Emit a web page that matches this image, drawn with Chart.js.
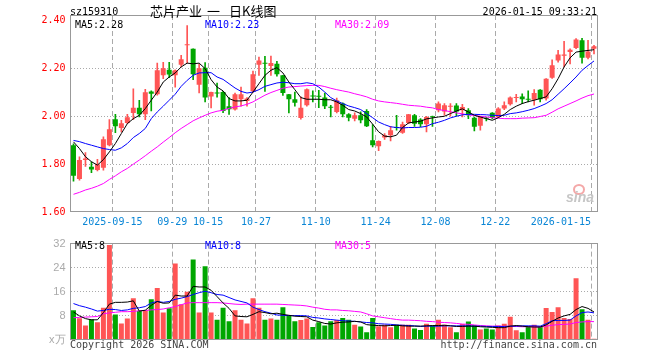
<!DOCTYPE html>
<html>
<head>
<meta charset="utf-8">
<script src="https://cdn.jsdelivr.net/npm/chart.js@4/dist/chart.umd.min.js"></script>
<style>
  body { margin: 0; width: 660px; height: 360px; position: relative; overflow: hidden; background: #fff; }
  canvas { position: absolute; left: 0; }
  .t { position: absolute; font: 10px "DejaVu Sans Mono", monospace; line-height: 12px; white-space: pre; }
  .cn { position: absolute; font: 13px "Noto Sans CJK SC"; line-height: 14px; white-space: pre; color: #000; }
</style>
</head>
<body>
<canvas id="k" width="660" height="232" style="top:0"></canvas>
<canvas id="v" width="660" height="128" style="top:232px"></canvas>

<div class="t" style="left:70px;top:6px">sz159310</div>
<div class="cn" style="left:150px;top:4px">芯片产业</div>
<div class="cn" style="left:207px;top:4px">一</div>
<div class="cn" style="left:229px;top:4px">日K线图</div>
<div class="t" style="right:63px;top:6px">2026-01-15 09:33:21</div>

<div class="t" style="left:75px;top:19px;color:#000">MA5:2.28</div>
<div class="t" style="left:205px;top:19px;color:#0000ff">MA10:2.23</div>
<div class="t" style="left:335px;top:19px;color:#ff00ff">MA30:2.09</div>

<div style="position:absolute;left:573px;top:184px;width:8px;height:7px;border-radius:50%;border:2px solid #f4a8a8"></div>
<div style="position:absolute;left:566px;top:189px;font:italic bold 14px 'Liberation Sans';color:#c6c6c6">sina</div>

<div class="t" style="left:75px;top:240px;color:#000">MA5:8</div>
<div class="t" style="left:205px;top:240px;color:#0000ff">MA10:8</div>
<div class="t" style="left:335px;top:240px;color:#ff00ff">MA30:5</div>

<div class="t" style="left:70px;top:339px;color:#444">Copyright 2026 SINA.COM</div>
<div class="t" style="right:63px;top:339px;color:#444">http://finance.sina.com.cn</div>

<script>
// trading days shown on the chart
const dates = [
  '2025-09-04','2025-09-05','2025-09-08','2025-09-09','2025-09-10','2025-09-11','2025-09-12',
  '2025-09-15','2025-09-16','2025-09-17','2025-09-18','2025-09-19','2025-09-22','2025-09-23',
  '2025-09-24','2025-09-25','2025-09-26','2025-09-29','2025-09-30','2025-10-09','2025-10-10',
  '2025-10-13','2025-10-14','2025-10-15','2025-10-16','2025-10-17','2025-10-20','2025-10-21',
  '2025-10-22','2025-10-23','2025-10-24','2025-10-27','2025-10-28','2025-10-29','2025-10-30',
  '2025-10-31','2025-11-03','2025-11-04','2025-11-05','2025-11-06','2025-11-07','2025-11-10',
  '2025-11-11','2025-11-12','2025-11-13','2025-11-14','2025-11-17','2025-11-18','2025-11-19',
  '2025-11-20','2025-11-21','2025-11-24','2025-11-25','2025-11-26','2025-11-27','2025-11-28',
  '2025-12-01','2025-12-02','2025-12-03','2025-12-04','2025-12-05','2025-12-08','2025-12-09',
  '2025-12-10','2025-12-11','2025-12-12','2025-12-15','2025-12-16','2025-12-17','2025-12-18',
  '2025-12-19','2025-12-22','2025-12-23','2025-12-24','2025-12-25','2025-12-26','2025-12-29',
  '2025-12-30','2025-12-31','2026-01-05','2026-01-06','2026-01-07','2026-01-08','2026-01-09',
  '2026-01-12','2026-01-13','2026-01-14','2026-01-15'
];

const open = [
  1.879,1.738,1.817,1.789,1.775,1.785,1.879,1.988,1.951,1.972,2.014,2.036,2.008,2.103,2.092,2.171,
  2.194,2.171,2.215,2.297,2.282,2.132,2.203,2.083,2.098,2.101,2.042,2.028,2.071,2.064,2.104,2.215,
  2.221,2.210,2.219,2.171,2.092,2.071,1.993,2.046,2.085,2.083,2.078,2.038,2.018,2.053,2.008,1.990,
  2.004,2.022,1.900,1.875,1.911,1.921,1.953,1.931,1.972,2.004,1.986,1.967,1.998,2.025,2.020,2.040,
  2.045,2.025,2.025,1.994,1.960,1.992,2.015,1.997,2.032,2.050,2.076,2.083,2.070,2.069,2.111,2.074,
  2.161,2.233,2.253,2.268,2.285,2.317,2.244,2.282
];
const high = [
  1.885,1.831,1.848,1.810,1.820,1.914,1.986,2.008,1.983,2.008,2.115,2.067,2.112,2.106,2.222,2.225,
  2.225,2.194,2.254,2.379,2.282,2.218,2.224,2.101,2.139,2.104,2.078,2.097,2.122,2.078,2.189,2.247,
  2.250,2.251,2.229,2.171,2.092,2.101,2.081,2.115,2.106,2.108,2.097,2.046,2.076,2.056,2.011,2.014,
  2.018,2.028,1.965,1.897,1.928,1.958,2.004,1.976,2.008,2.008,1.990,2.000,2.001,2.060,2.053,2.053,
  2.053,2.050,2.032,1.997,2.000,1.997,2.015,2.036,2.060,2.081,2.092,2.094,2.106,2.111,2.111,2.157,
  2.236,2.275,2.313,2.282,2.324,2.326,2.317,2.296
];
const low = [
  1.729,1.733,1.790,1.764,1.772,1.775,1.876,1.931,1.935,1.969,1.986,1.997,1.986,2.022,2.088,2.157,
  2.161,2.122,2.206,2.222,2.153,2.097,2.060,2.035,2.080,2.015,2.008,2.025,2.042,2.042,2.101,2.171,
  2.104,2.171,2.167,2.087,2.014,2.042,1.988,2.042,2.060,2.036,2.032,1.997,2.014,1.997,1.981,1.981,
  1.972,1.956,1.872,1.856,1.903,1.897,1.942,1.928,1.969,1.958,1.956,1.935,1.958,2.018,2.005,2.000,
  2.000,1.997,1.990,1.939,1.942,1.981,1.989,1.994,2.028,2.046,2.060,2.053,2.060,2.046,2.060,2.067,
  2.158,2.226,2.206,2.219,2.282,2.222,2.240,2.260
];
const close = [
  1.751,1.817,1.823,1.778,1.799,1.904,1.946,1.958,1.971,1.996,2.036,2.008,2.100,2.094,2.192,2.201,
  2.174,2.192,2.238,2.300,2.175,2.201,2.078,2.101,2.095,2.022,2.029,2.092,2.092,2.074,2.175,2.233,
  2.219,2.222,2.175,2.097,2.071,2.056,2.035,2.113,2.083,2.081,2.042,2.036,2.067,2.008,1.994,2.004,
  1.983,1.958,1.879,1.897,1.921,1.942,1.951,1.967,2.008,1.969,1.967,1.997,1.996,2.053,2.046,2.043,
  2.020,2.039,2.004,1.956,1.997,1.990,1.993,2.032,2.046,2.078,2.078,2.071,2.069,2.097,2.071,2.157,
  2.213,2.258,2.258,2.278,2.321,2.244,2.271,2.292
];

// moving averages
const ma5 = [
  1.893,1.865,1.831,1.810,1.796,1.819,1.851,1.886,1.928,1.969,1.990,2.004,2.032,2.067,2.101,2.143,
  2.164,2.181,2.206,2.222,2.219,2.222,2.199,2.153,2.122,2.106,2.074,2.064,2.064,2.067,2.101,2.136,
  2.171,2.192,2.203,2.181,2.143,2.111,2.078,2.071,2.071,2.071,2.069,2.069,2.060,2.046,2.028,2.022,
  2.011,1.997,1.967,1.935,1.917,1.914,1.921,1.953,1.972,1.976,1.979,1.989,1.993,1.997,2.000,2.011,
  2.022,2.031,2.018,2.004,1.997,1.990,1.983,1.994,2.008,2.028,2.042,2.053,2.061,2.067,2.074,2.081,
  2.115,2.157,2.206,2.244,2.268,2.272,2.275,2.278
];
const ma10 = [
  1.899,1.894,1.886,1.879,1.872,1.865,1.861,1.858,1.868,1.886,1.911,1.928,1.949,1.990,2.018,2.042,
  2.067,2.092,2.125,2.150,2.171,2.181,2.182,2.182,2.164,2.154,2.136,2.118,2.104,2.097,2.101,2.111,
  2.125,2.132,2.139,2.142,2.140,2.136,2.136,2.140,2.136,2.122,2.101,2.078,2.064,2.053,2.043,2.036,
  2.028,2.011,1.994,1.976,1.965,1.956,1.953,1.951,1.953,1.953,1.954,1.958,1.969,1.975,1.983,1.993,
  2.000,2.006,2.008,2.008,2.007,2.006,2.004,2.003,2.004,2.011,2.014,2.019,2.025,2.032,2.042,2.053,
  2.069,2.092,2.115,2.139,2.164,2.192,2.212,2.231
];
const ma30 = [
  1.674,1.682,1.692,1.699,1.708,1.719,1.736,1.751,1.768,1.782,1.800,1.817,1.835,1.854,1.872,1.892,
  1.911,1.931,1.949,1.965,1.981,1.993,2.004,2.014,2.021,2.025,2.033,2.039,2.043,2.050,2.060,2.074,
  2.088,2.099,2.108,2.117,2.122,2.124,2.126,2.128,2.129,2.129,2.124,2.117,2.111,2.106,2.101,2.094,
  2.088,2.081,2.071,2.064,2.060,2.057,2.054,2.050,2.046,2.044,2.042,2.038,2.035,2.028,2.024,2.019,
  2.014,2.010,2.006,2.003,2.000,1.997,1.994,1.992,1.990,1.990,1.990,1.992,1.993,1.994,1.999,2.004,
  2.017,2.031,2.042,2.053,2.064,2.076,2.086,2.093
];

// volume in units of 10k (万)
const volume = [
  9.9,7.25,4.8,6.9,5.9,10.7,31.5,8.5,5.5,7.1,13.9,9.6,9.9,13.5,17.3,9.1,10.5,25.4,11.9,16,
  26.7,9.1,24.5,9.1,6.7,10.7,6.2,9.9,6.7,5.5,13.9,10.7,6.7,7.1,6.7,10.9,8,6.2,6.6,7.1,
  4.3,5.9,4.8,6.2,6.6,7.3,6.7,5.1,4.5,2.6,7.3,4.6,5.1,4.2,5.1,5.1,5.1,3.8,3.3,5.4,
  4.8,6.7,5.1,4.2,2.6,5.3,6.1,4.8,3.5,3.8,3.5,4.8,5.4,7.7,3.2,2.6,4.5,5.1,4.5,10.6,
  9.3,10.9,7.3,7.0,20.5,10.2,6.7,0.4
];
const volMa5 = [
  9.3,8.0,7.1,6.7,6.7,9.1,11.9,12.5,12.5,12.6,13.0,9.6,9.9,11.5,12.8,12.2,12.3,14.9,14.6,14.6,
  17.8,17.6,17.6,16.5,14.4,12.3,10.5,8.0,7.8,7.7,8.5,9.4,9.1,8.7,8.9,8.5,8.2,7.9,7.8,7.7,
  6.6,6.1,5.5,5.3,5.7,5.9,6.0,6.2,6.0,5.1,4.9,4.8,4.7,4.8,4.9,4.7,4.6,4.6,4.6,4.7,
  4.8,4.8,4.9,4.7,4.5,4.5,4.6,4.6,4.4,4.3,4.2,4.1,4.1,4.6,4.8,4.6,4.4,4.3,4.3,5.0,
  6.2,7.3,8.0,8.5,10.1,11.1,10.5,9.3
];
const volMa10 = [
  12.1,11.4,10.9,10.3,9.6,9.8,10.2,10.1,9.8,10.0,10.5,10.7,11.1,12.3,12.8,12.5,12.8,13.5,13.9,14.4,
  15.1,15.7,16.2,15.7,15.1,14.9,14.1,13.3,12.8,12.3,10.9,10.1,9.4,8.9,8.3,8.2,8.1,8.1,8.1,8.0,
  7.5,7.3,7.0,6.8,6.6,6.4,6.3,6.2,6.0,5.8,5.7,5.4,5.3,5.2,5.0,4.9,4.8,4.7,4.5,4.6,
  4.6,4.6,4.7,4.7,4.7,4.7,4.7,4.6,4.6,4.5,4.5,4.5,4.5,4.6,4.6,4.7,4.7,4.7,4.6,5.4,
  6.4,6.5,6.5,6.6,8.0,9.1,9.3,9.0
];
const volMa30 = [
  7.4,7.5,7.6,7.7,7.8,8.7,9.0,9.2,9.4,9.4,9.5,9.7,9.8,10.0,10.1,10.3,10.7,11.1,11.7,12.3,
  12.4,12.4,12.4,12.4,12.4,12.3,12.1,11.9,11.8,11.9,11.9,11.9,11.9,11.9,11.9,11.8,11.7,11.6,11.5,11.3,
  10.9,10.6,10.2,10.0,10.0,9.8,9.7,9.5,9.3,8.7,8.0,7.7,7.4,7.1,6.8,6.6,6.6,6.5,6.4,6.2,
  6.1,5.9,5.8,5.7,5.5,5.3,5.2,5.0,4.8,4.7,4.6,4.6,4.5,4.5,4.5,4.4,4.4,4.4,4.3,4.6,
  4.9,5.1,5.2,5.3,5.8,6.0,6.1,6.1
];

// axis ticks
const tickDates = ['2025-09-15','2025-09-29','2025-10-15','2025-10-27','2025-11-10','2025-11-24','2025-12-08','2025-12-22','2026-01-15'];
const tickLabels = ['2025-09-15','09-29','10-15','10-27','11-10','11-24','12-08','12-22','2026-01-15'];
const priceTicks = [1.6, 1.8, 2.0, 2.2, 2.4];
const volTicks = [0, 8, 16, 24, 32];

const RED = '#ff5555';
const GREEN = '#00a600';
const GRID = '#aaaaaa';
const NONE = 'rgba(0,0,0,0)';
const MONO = { family: 'DejaVu Sans Mono', size: 10 };

const colors = close.map((c, i) => c >= open[i] ? RED : GREEN);

// draw the grey box round the plot area
const frame = {
  id: 'frame',
  afterDraw(chart) {
    const a = chart.chartArea, ctx = chart.ctx;
    const x0 = Math.floor(a.left) + 0.5, x1 = Math.floor(a.right) + 0.5;
    const y0 = Math.floor(a.top) + 0.5, y1 = Math.floor(a.bottom) - 0.5;
    ctx.save();
    ctx.strokeStyle = '#999';
    ctx.lineWidth = 1;
    ctx.strokeRect(x0, y0, x1 - x0, y1 - y0);
    ctx.restore();
  }
};

const xGridColor = (c) => tickDates.includes(dates[c.index]) ? GRID : NONE;

const line = (data, color) => ({
  type: 'line', data, borderColor: color, borderWidth: 1,
  pointRadius: 0, tension: 0, fill: false, order: 0
});

new Chart(document.getElementById('k'), {
  type: 'bar',
  data: {
    labels: dates,
    datasets: [
      line(ma5, '#000000'),
      line(ma10, '#0000ff'),
      line(ma30, '#ff00ff'),
      {
        data: open.map((o, i) => [o, close[i]]),
        backgroundColor: colors,
        barPercentage: 5 / 6, categoryPercentage: 1,
        grouped: false, minBarLength: 1, order: 1
      },
      {
        data: low.map((l, i) => [l, high[i]]),
        backgroundColor: colors,
        barThickness: 1, grouped: false, order: 2
      }
    ]
  },
  options: {
    responsive: false, animation: false, devicePixelRatio: 1,
    layout: { padding: { top: 15, right: 63, left: 0, bottom: 0 } },
    plugins: { legend: { display: false }, tooltip: { enabled: false } },
    scales: {
      x: {
        offset: true,
        grid: { offset: true, color: xGridColor, lineWidth: 1, drawTicks: false },
        border: { display: false, dash: [5, 3] },
        ticks: {
          autoSkip: false, maxRotation: 0, minRotation: 0, padding: 4,
          labelOffset: -3, color: '#0a86d6', font: MONO,
          callback: (v, i) => {
            const k = tickDates.indexOf(dates[i]);
            if (k < 0) return '';
            // last label sits left of its line so it stays inside the box
            return k === tickLabels.length - 1 ? tickLabels[k] + ' '.repeat(10) : tickLabels[k];
          }
        },
        afterFit: (s) => { s.height = 20; }
      },
      y: {
        min: 1.6, max: 2.423,
        afterBuildTicks: (s) => { s.ticks = priceTicks.map(v => ({ value: v })); },
        grid: {
          color: (c) => (c.tick && c.tick.value > 1.7 && c.tick.value < 2.3) ? GRID : NONE,
          drawTicks: false
        },
        border: { display: false, dash: [1, 2] },
        ticks: { color: '#ff0000', padding: 5, font: MONO, callback: (v) => v.toFixed(2) },
        afterFit: (s) => { s.width = 70.5; }
      }
    }
  },
  plugins: [frame]
});

new Chart(document.getElementById('v'), {
  type: 'bar',
  data: {
    labels: dates,
    datasets: [
      line(volMa5, '#000000'),
      line(volMa10, '#0000ff'),
      line(volMa30, '#ff00ff'),
      {
        data: volume,
        backgroundColor: colors,
        barPercentage: 5 / 6, categoryPercentage: 1,
        grouped: false, order: 1
      }
    ]
  },
  options: {
    responsive: false, animation: false, devicePixelRatio: 1,
    layout: { padding: { top: 8, right: 63, left: 0, bottom: 20 } },
    plugins: { legend: { display: false }, tooltip: { enabled: false } },
    scales: {
      x: {
        offset: true,
        grid: { offset: true, color: xGridColor, lineWidth: 1, drawTicks: false },
        border: { display: false, dash: [5, 3] },
        ticks: { display: false, autoSkip: false },
        afterFit: (s) => { s.height = 0; }
      },
      y: {
        min: 0, max: 32,
        afterBuildTicks: (s) => { s.ticks = volTicks.map(v => ({ value: v })); },
        grid: {
          color: (c) => (c.tick && c.tick.value > 0 && c.tick.value < 32) ? GRID : NONE,
          drawTicks: false
        },
        border: { display: false, dash: [1, 2] },
        ticks: {
          color: '#aaaaaa', padding: 5,
          font: { family: 'Liberation Sans', size: 11 },
          callback: (v) => v === 0 ? 'x万' : String(v)
        },
        afterFit: (s) => { s.width = 70.5; }
      }
    }
  },
  plugins: [frame]
});
</script>
</body>
</html>
